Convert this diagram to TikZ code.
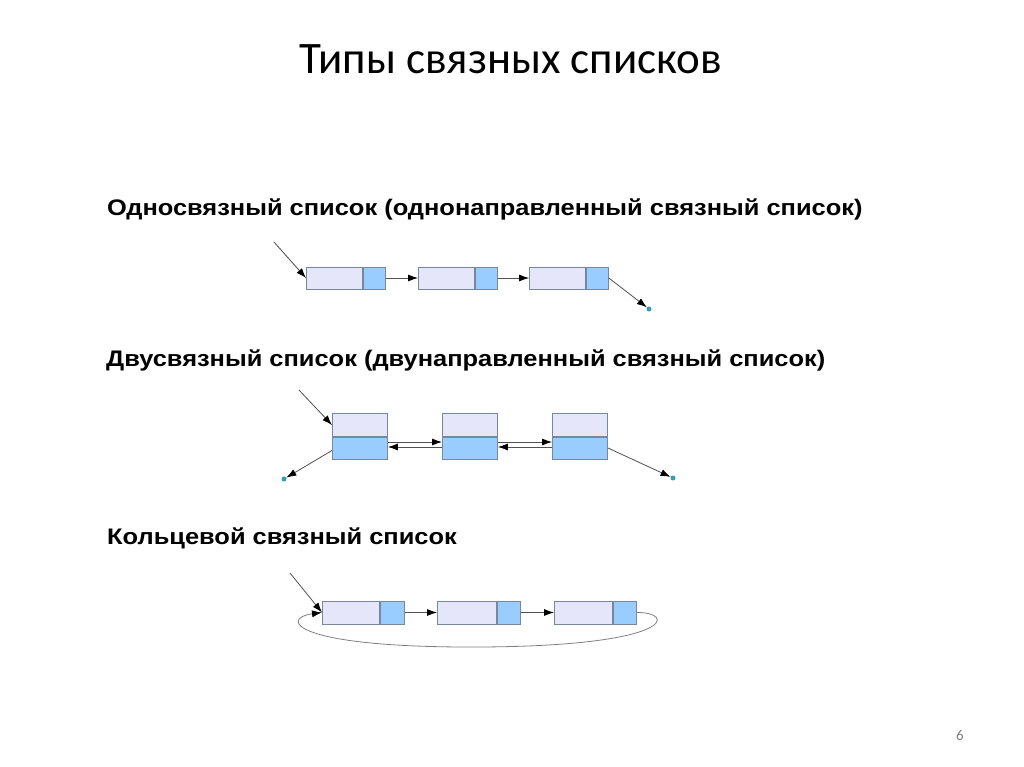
\documentclass[tikz,border=0pt]{standalone}
\usepackage{fontspec}
\setmainfont{Liberation Sans}
\newfontfamily\titlefont{Carlito}
\newfontfamily\headfont{Liberation Sans}[FakeStretch=1.13]
\usetikzlibrary{arrows.meta}
\definecolor{datafill}{RGB}{230,230,250}
\definecolor{ptrfill}{RGB}{153,204,255}
\definecolor{boxline}{RGB}{120,135,155}
\definecolor{linkline}{RGB}{80,80,80}
\definecolor{dotcol}{RGB}{50,160,175}
\tikzset{
  cell/.style={draw=boxline, line width=0.9pt, inner sep=0pt, anchor=west},
  datacell/.style={cell, fill=datafill},
  ptrcell/.style={cell, fill=ptrfill},
  link/.style={draw=linkline, line width=0.8pt, -{Latex[length=10pt,width=7pt,color=black]}},
  nullref/.style={circle, fill=dotcol, inner sep=0pt, minimum size=5pt},
  heading/.style={anchor=base west, inner sep=0pt, font=\headfont\bfseries\fontsize{22.5}{26}\selectfont},
}
\begin{document}
\begin{tikzpicture}[x=1pt,y=-1pt]
\useasboundingbox[fill=white] (0,0) rectangle (1024,767);

% title
\node[anchor=base, inner sep=0pt, font=\titlefont\fontsize{45}{50}\selectfont] (title) at (511,74) {Типы связных списков};

% headings
\node[heading] (h1) at (107,215) {Односвязный список (однонаправленный связный список)};
\node[heading] (h2) at (106,366) {Двусвязный список (двунаправленный связный список)};
\node[heading] (h3) at (107,544) {Кольцевой связный список};

% ---------- singly linked ----------
\foreach \i/\x in {1/306,2/418,3/529}{
  \node[datacell, minimum width=56pt, minimum height=22pt] (sd\i) at (\x,278) {};
  \node[ptrcell, minimum width=22pt, minimum height=22pt] (sp\i) at (sd\i.east) {};
}
\coordinate (sin) at (274,242);
\node[nullref] (snull) at (649,309) {};
\draw[link] (sin) -- (sd1.west);
\draw[link] (sp1.east) -- (sd2.west);
\draw[link] (sp2.east) -- (sd3.west);
\draw[link] (sp3.east) -- (snull);

% ---------- doubly linked ----------
\foreach \i/\x in {1/332,2/442,3/552}{
  \node[datacell, anchor=south west, minimum width=55pt, minimum height=23pt] (dd\i) at (\x,437) {};
  \node[ptrcell, anchor=north west, minimum width=55pt, minimum height=22pt] (dp\i) at (\x,437) {};
}
\coordinate (din) at (299,390);
\node[nullref] (dnullL) at (284,479) {};
\node[nullref] (dnullR) at (673,478) {};
\draw[link] (din) -- (dd1.west);
\draw[link] ([yshift=-2pt]dp1.west) -- (dnullL);
\draw[link] ([yshift=-11pt]dp3.north east) -- (dnullR);
\foreach \a/\b in {1/2,2/3}{
  \draw[link] ([yshift=-5pt]dp\a.north east) -- ([yshift=-5pt]dp\b.north west);
  \draw[link] ([yshift=-10pt]dp\b.north west) -- ([yshift=-10pt]dp\a.north east);
}

% ---------- circular ----------
\node[datacell, minimum width=57pt, minimum height=23pt] (cd1) at (322,612.5) {};
\node[ptrcell, minimum width=24pt, minimum height=23pt] (cp1) at (cd1.east) {};
\node[datacell, minimum width=59pt, minimum height=23pt] (cd2) at (437,612.5) {};
\node[ptrcell, minimum width=23pt, minimum height=23pt] (cp2) at (cd2.east) {};
\node[datacell, minimum width=58pt, minimum height=23pt] (cd3) at (554,612.5) {};
\node[ptrcell, minimum width=23pt, minimum height=23pt] (cp3) at (cd3.east) {};
\coordinate (cin) at (290,573);
\draw[link] (cin) -- (cd1.west);
\draw[link] (cp2.east) -- (cd3.west);
\draw[link] (cp1.east) -- (cd2.west);
\draw[link, draw=gray] (cp3.east) .. controls (676,612) and (676,646) .. (480,647)
   .. controls (290,648) and (280,618) .. (cd1.west);

% page number
\node[inner sep=0pt, text=gray, font=\titlefont\fontsize{15}{17}\selectfont] (pg) at (960,735) {6};
\end{tikzpicture}
\end{document}
